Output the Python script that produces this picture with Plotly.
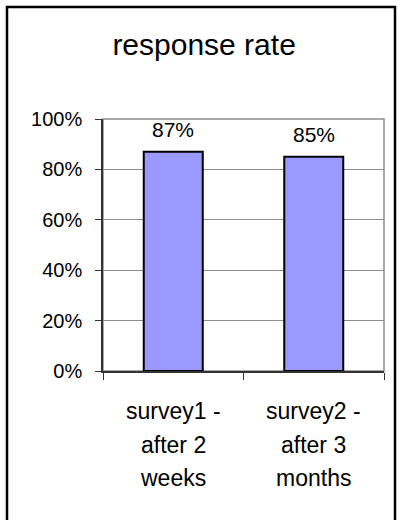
import plotly.graph_objects as go

# Survey response rates
x_label_lines = [["survey1 -", "after 2", "weeks"], ["survey2 -", "after 3", "months"]]
categories = [" ".join(lines) for lines in x_label_lines]
response_rate = [0.87, 0.85]
y_ticks = [0, 0.2, 0.4, 0.6, 0.8, 1.0]
y_tick_labels = ["0%", "20%", "40%", "60%", "80%", "100%"]

FONT = "Liberation Sans, Arial, sans-serif"

fig = go.Figure(
    go.Bar(
        x=categories,
        y=response_rate,
        width=0.42,
        marker=dict(color="#9999FF", line=dict(color="#000000", width=2)),
        cliponaxis=False,
    )
)

fig.update_layout(
    width=401,
    height=520,
    margin=dict(l=103, r=17, t=119, b=149),
    paper_bgcolor="#FFFFFF",
    plot_bgcolor="#FFFFFF",
    showlegend=False,
    font=dict(family=FONT, color="#000000"),
    title=dict(
        text="response rate",
        font=dict(family=FONT, size=30, color="#000000"),
        x=0.509,
        xanchor="center",
        y=0.915,
        yanchor="middle",
    ),
    xaxis=dict(
        type="category",
        tickson="boundaries",
        ticks="outside",
        ticklen=7,
        tickcolor="#333333",
        showline=True,
        linecolor="#333333",
        linewidth=1.5,
        showgrid=False,
        showticklabels=False,
    ),
    yaxis=dict(
        range=[0, 1],
        tickvals=y_ticks,
        ticktext=y_tick_labels,
        ticks="outside",
        ticklen=6,
        tickcolor="#333333",
        showline=True,
        linecolor="#333333",
        linewidth=1.5,
        showgrid=True,
        gridcolor="#8C8C8C",
        gridwidth=1,
        zeroline=False,
        tickfont=dict(family=FONT, size=20, color="#000000"),
        ticklabelstandoff=9,
    ),
)

# value labels above each bar
for cat, v in zip(categories, response_rate):
    fig.add_annotation(
        x=cat, y=v, xref="x", yref="y", text=f"{v:.0%}", showarrow=False,
        yanchor="bottom", yshift=9,
        font=dict(family=FONT, size=21, color="#000000"),
    )

# category labels, one line each, with wide line spacing
for cat, lines in zip(categories, x_label_lines):
    for i, line in enumerate(lines):
        fig.add_annotation(
            x=cat, y=0, xref="x", yref="paper", text=line, showarrow=False,
            yanchor="middle", yshift=-40 - 33.5 * i,
            font=dict(family=FONT, size=23, color="#000000"),
        )

# grey frame round the plotting area (top and right edges show)
fig.add_shape(
    type="rect", xref="paper", yref="paper", x0=0, x1=1, y0=0, y1=1,
    line=dict(color="#8C8C8C", width=1.5), layer="below",
)

# black border round the whole chart
fig.add_shape(
    type="rect", xref="paper", yref="paper",
    x0=(7 - 103) / 281, x1=(395 - 103) / 281,
    y0=(371 - 530) / 252, y1=(371 - 7) / 252,
    line=dict(color="#000000", width=2.5),
)

fig.write_html("out.html")
